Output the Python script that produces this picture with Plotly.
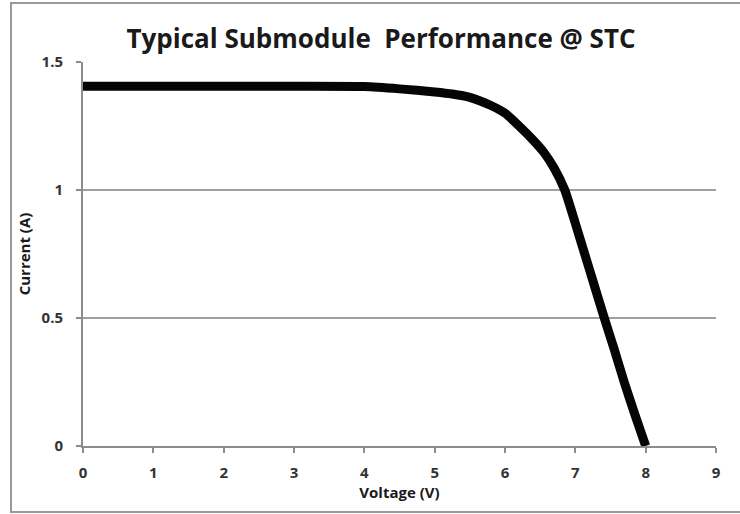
import plotly.graph_objects as go

voltage = [0, 1, 2, 3, 4, 4.5, 5, 5.25, 5.5, 5.8, 6.0, 6.2, 6.4, 6.55, 6.7, 6.85,
           7.0, 7.1, 7.25, 7.4, 7.55, 7.7, 7.85, 8.0]
current = [1.405, 1.405, 1.405, 1.405, 1.404, 1.395, 1.383, 1.375, 1.362, 1.33,
           1.30, 1.25, 1.195, 1.148, 1.085, 1.0, 0.87, 0.78, 0.645, 0.51, 0.38,
           0.245, 0.12, 0.0]

x_ticks = [0, 1, 2, 3, 4, 5, 6, 7, 8, 9]
y_ticks = [0, 0.5, 1, 1.5]
y_tick_text = ["0", "0.5", "1", "1.5"]

font_family = "'Open Sans', Lato, sans-serif"
grid_col = "#a0a0a0"
axis_col = "#8c8c8c"

fig = go.Figure()
fig.add_trace(go.Scatter(
    x=voltage, y=current, mode="lines",
    line=dict(color="#050505", width=9, shape="spline", smoothing=0.5),
    hoverinfo="skip", showlegend=False,
))

W, H = 740, 514
L, R, T, B = 83, 24, 62, 68
pw, ph = W - L - R, H - T - B

def px2paper_x(px):
    return (px - L) / pw

def py2paper_y(py):
    return (H - B - py) / ph

fig.add_shape(type="rect", xref="paper", yref="paper",
              x0=px2paper_x(11), x1=px2paper_x(760),
              y0=py2paper_y(512), y1=py2paper_y(3),
              line=dict(color="#999999", width=2), fillcolor="rgba(0,0,0,0)",
              layer="above")

fig.update_layout(
    width=W, height=H,
    margin=dict(l=L, r=R, t=T, b=B, autoexpand=False),
    paper_bgcolor="white", plot_bgcolor="white",
    font=dict(family=font_family, color="#333333"),
    title=dict(text="<b>Typical Submodule  Performance @ STC</b>",
               x=381 / W, xanchor="center", y=1 - 39 / H, yanchor="middle",
               font=dict(size=26, color="#1a1a1a", family=font_family)),
    xaxis=dict(range=[0, 9], tickvals=x_ticks, ticktext=[f"<b>{t}</b>" for t in x_ticks],
               showgrid=False, zeroline=False, automargin=False,
               showline=True, linecolor=axis_col, linewidth=2,
               ticks="outside", ticklen=5, tickwidth=2, tickcolor=axis_col,
               tickfont=dict(size=15, color="#333333", family=font_family),
               ticklabelstandoff=7,
               title=dict(text="<b>Voltage (V)</b>", standoff=3,
                          font=dict(size=15, color="#1a1a1a", family=font_family)),
               fixedrange=True),
    yaxis=dict(range=[0, 1.5], tickvals=y_ticks, ticktext=[f"<b>{t}</b>" for t in y_tick_text],
               showgrid=True, gridcolor=grid_col, gridwidth=2,
               zeroline=False, automargin=False,
               showline=True, linecolor=axis_col, linewidth=2,
               ticks="outside", ticklen=5, tickwidth=2, tickcolor=axis_col,
               tickfont=dict(size=15, color="#333333", family=font_family),
               ticklabelstandoff=10,
               title=dict(text="<b>Current (A)</b>", standoff=7,
                          font=dict(size=15, color="#1a1a1a", family=font_family)),
               fixedrange=True),
)

fig.write_html("out.html", config={"displayModeBar": False},
               post_script="document.body.style.margin='0';document.body.style.overflow='hidden';")
